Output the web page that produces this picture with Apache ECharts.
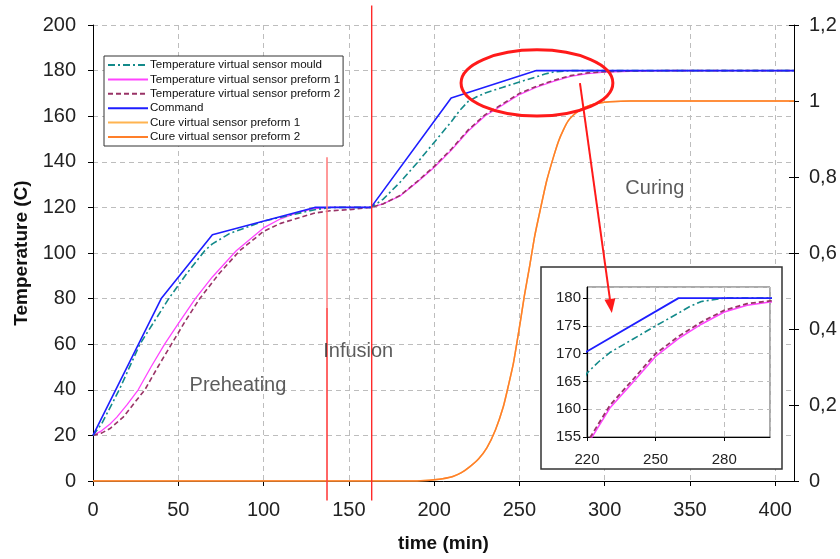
<!DOCTYPE html>
<html><head><meta charset="utf-8">
<script src="https://cdn.jsdelivr.net/npm/echarts@6/dist/echarts.min.js"></script>
<style>html,body{margin:0;padding:0;background:#fff}#c{width:840px;height:559px}</style>
</head><body><div id="c"></div>
<script>
// ---------- data ----------
const seriesNames = [
  'Temperature virtual sensor mould',
  'Temperature virtual sensor preform 1',
  'Temperature virtual sensor preform 2',
  'Command',
  'Cure virtual sensor preform 1',
  'Cure virtual sensor preform 2'
];
const command = [[0,20],[40,80],[70,108],[130,120],[163,120],[210,168],[260,180],[411,180]];
const mould = [[0,20],[5,25],[15.4,40],[27.5,60],[44.4,80],[55,91],[65.5,101],[70,104],[80,108.5],[100,114],[121,117.5],[130,119],[140,120],[163,120],[170,123.5],[180,131],[190,139.5],[200,148.5],[210,157.5],[215,162.5],[220,166.5],[225,168.5],[230,170.2],[240,172.6],[250,175],[260,177.3],[265,178.5],[270,179.4],[280,180],[411,180]];
const preform1 = [[0,20],[5,22],[10,25],[14,28],[20,33.5],[26.5,40],[34,50],[42,60],[50,69],[60,80],[70,89.5],[84,101],[100,111],[110,115],[121,118],[130,119.5],[140,120],[163,120],[170,121.5],[180,125],[190,131],[200,137.5],[210,145],[220,153.5],[230,160.2],[240,164.8],[250,169.5],[260,172.7],[270,175.3],[280,177.5],[290,178.7],[300,179.3],[320,179.8],[340,180],[411,180]];
const preform2 = [[0,20],[5,21],[10,23],[17.7,28],[24,34],[30.4,40],[38,50],[46,60],[54,70],[62.6,80],[74,91],[86,101],[100,109.5],[110,113],[121,115.5],[130,117.5],[139,118.5],[150,119],[163,120],[170,121.5],[180,125.2],[190,131.3],[200,138],[210,145.5],[220,154],[230,160.7],[240,165.3],[250,170],[260,173.1],[270,175.7],[280,177.8],[290,179],[300,179.5],[320,179.9],[340,180],[411,180]];
const cure1 = [[0,0],[190,0],[195,0.001],[200,0.003],[205,0.006],[211,0.012],[216,0.022],[221,0.038],[226,0.058],[231,0.088],[236,0.135],[240.6,0.196],[243.5,0.25],[246.5,0.31],[250.4,0.415],[253,0.49],[256.3,0.573],[259,0.645],[262.2,0.713],[266,0.79],[270,0.853],[273,0.895],[275.8,0.924],[278.5,0.947],[281.7,0.963],[286,0.978],[291.5,0.989],[297,0.995],[303,0.998],[315,1],[411,1]];
const cure2 = [[0,0],[190,0],[195,0.001],[200,0.003],[205,0.006],[211,0.012],[216,0.022],[221,0.038],[226,0.058],[231,0.088],[236,0.135],[240.6,0.196],[243.5,0.25],[246.5,0.31],[250.4,0.415],[253,0.49],[256.3,0.573],[259,0.645],[262.2,0.713],[266,0.79],[270,0.853],[273,0.895],[275.8,0.924],[278.5,0.947],[281.7,0.963],[286,0.978],[291.5,0.989],[297,0.995],[303,0.998],[315,1],[411,1]];
const infusionLine1Pale = [[137.2,142],[137.2,76]];
const infusionLine1 = [[137.2,76],[137.2,-8.5]];
const infusionLine2 = [[163.4,208.5],[163.4,-8.5]];
const phaseLabels = [[85,42,'Preheating'],[155.5,56.6,'Infusion'],[329.4,128.5,'Curing']];
const ellipseSpec = [260.3,174.6,44.5,14.5]; // cx, cy, rx, ry in data units
const arrowFrom = [285.5,174.5];
const arrowTo = [304.2,73.7];

// ---------- chart ----------
const FF = '"Liberation Sans", Arial, sans-serif';
const chart = echarts.init(document.getElementById('c'), null, {renderer:'canvas'});
const dashGrid = {show:true, lineStyle:{color:'#bdbdbd', type:[5,4], width:1}};
const colors = ['#138a8a','#ff44ff','#993366','#1e1eff','#ffb450','#ff7f2a'];
function lineS(name, data, color, type, width, xi, yi, z, smooth) {
  return {name, type:'line', data, xAxisIndex:xi, yAxisIndex:yi, symbol:'none', showSymbol:false,
    smooth: smooth||false, z, clip:true,
    lineStyle:{color, type, width}, itemStyle:{color}, emphasis:{disabled:true}, animation:false};
}
const dashDot = [7,3,2,3];
const option = {
  animation:false,
  textStyle:{fontFamily:FF},
  legend:{
    data: seriesNames, orient:'vertical', left:104, top:56,
    padding:[3,3,3,3], itemWidth:40, itemHeight:10, itemGap:2.4,
    borderColor:'#333', borderWidth:1, backgroundColor:'#fff', borderRadius:0,
    itemStyle:{opacity:0},
    textStyle:{fontSize:11.6, color:'#111', fontFamily:FF, padding:[0,0,0,-3]},
    selectedMode:false, z:40
  },
  grid:[
    {left:93, top:25, width:701, height:456, outerBoundsMode:'none', containLabel:false},
    {left:587, top:287, width:183, height:150, show:true, backgroundColor:'#fff', borderColor:'#555', borderWidth:1, z:15, outerBoundsMode:'none', containLabel:false}
  ],
  xAxis:[
    {type:'value', gridIndex:0, min:0, max:411, interval:50,
     axisLine:{show:true, onZero:false, lineStyle:{color:'#000', width:1}},
     axisTick:{show:true, length:5, lineStyle:{color:'#000'}},
     axisLabel:{fontSize:20, color:'#222', margin:19, showMaxLabel:false, fontFamily:FF},
     splitLine:dashGrid,
     name:'time (min)', nameLocation:'middle', nameGap:53,
     nameTextStyle:{fontSize:19, fontWeight:'bold', color:'#111', fontFamily:FF}},
    {type:'value', gridIndex:1, min:220, max:300, interval:30, z:20,
     axisLine:{show:true, onZero:false, lineStyle:{color:'#000', width:1.2}},
     axisTick:{show:true, length:4, lineStyle:{color:'#000'}},
     axisLabel:{fontSize:15, color:'#222', margin:15, showMaxLabel:false, fontFamily:FF},
     splitLine:dashGrid}
  ],
  yAxis:[
    {type:'value', gridIndex:0, min:0, max:200, interval:20, position:'left',
     axisLine:{show:true, lineStyle:{color:'#000', width:1}},
     axisTick:{show:true, length:5, lineStyle:{color:'#000'}},
     axisLabel:{fontSize:20, color:'#222', margin:17, fontFamily:FF},
     splitLine:dashGrid,
     name:'Temperature (C)', nameLocation:'middle', nameGap:61, nameRotate:90,
     nameTextStyle:{fontSize:19, fontWeight:'bold', color:'#111', fontFamily:FF}},
    {type:'value', gridIndex:0, min:0, max:1.2, interval:0.2, position:'right',
     axisLine:{show:true, lineStyle:{color:'#000', width:1}},
     axisTick:{show:true, length:5, lineStyle:{color:'#000'}},
     axisLabel:{fontSize:20, color:'#222', margin:15, fontFamily:FF,
       formatter:v=>String(+(+v).toFixed(1)).replace('.',',')},
     splitLine:{show:false}},
    {type:'value', gridIndex:1, min:155, max:182, interval:5, z:20,
     axisLine:{show:true, lineStyle:{color:'#000', width:1.2}},
     axisTick:{show:true, length:4, lineStyle:{color:'#000'}},
     axisLabel:{fontSize:15, color:'#222', margin:6, showMaxLabel:false, fontFamily:FF},
     splitLine:dashGrid},
    {type:'value', gridIndex:0, min:0, max:1.2, interval:0.2, position:'right',
     axisLine:{show:false},
     axisTick:{show:true, inside:true, length:5, lineStyle:{color:'#000'}},
     axisLabel:{show:false}, splitLine:{show:false}}
  ],
  series:[
    lineS(seriesNames[4], cure1, colors[4], 'solid', 1.5, 0, 1, 2, 0.2),
    lineS(seriesNames[5], cure2, colors[5], 'solid', 1.5, 0, 1, 2, 0.2),
    lineS(seriesNames[1], preform1, colors[1], 'solid', 1.3, 0, 0, 3, false),
    lineS(seriesNames[2], preform2, colors[2], [5,3], 1.6, 0, 0, 3, false),
    lineS(seriesNames[0], mould, colors[0], dashDot, 1.6, 0, 0, 4, false),
    lineS(seriesNames[3], command, colors[3], 'solid', 1.6, 0, 0, 5, false),
    {type:'line', data:infusionLine1Pale, symbol:'none', clip:false, z:6, silent:true, animation:false,
     lineStyle:{color:'#ff8080', width:1.6}},
    {type:'line', data:infusionLine1, symbol:'none', clip:false, z:6, silent:true, animation:false,
     lineStyle:{color:'#ff4040', width:1.6}},
    {type:'line', data:infusionLine2, symbol:'none', clip:false, z:6, silent:true, animation:false,
     lineStyle:{color:'#ff2a2a', width:1.4}},
    {type:'scatter', data:phaseLabels, symbolSize:1, itemStyle:{color:'rgba(0,0,0,0)'}, z:7, silent:true,
     label:{show:true, position:'inside', formatter:p=>p.value[2], fontSize:20, color:'#333', fontFamily:FF}},
    // inset
    lineS(seriesNames[1], preform1, colors[1], 'solid', 1.5, 1, 2, 21, false),
    lineS(seriesNames[2], preform2, colors[2], [5,3], 1.8, 1, 2, 21, false),
    lineS(seriesNames[0], mould, colors[0], dashDot, 1.6, 1, 2, 22, false),
    lineS(seriesNames[3], command, colors[3], 'solid', 1.8, 1, 2, 23, false)
  ]
};
chart.setOption(option);

// annotations converted from data coordinates
const c = chart.convertToPixel({gridIndex:0}, [ellipseSpec[0], ellipseSpec[1]]);
const e1 = chart.convertToPixel({gridIndex:0}, [ellipseSpec[0]+ellipseSpec[2], ellipseSpec[1]+ellipseSpec[3]]);
const a0 = chart.convertToPixel({gridIndex:0}, arrowFrom);
const a1 = chart.convertToPixel({gridIndex:0}, arrowTo);
const ang = Math.atan2(a1[1]-a0[1], a1[0]-a0[0]);
const hl = 14, hw = 5.5;
const base = [a1[0]-hl*Math.cos(ang), a1[1]-hl*Math.sin(ang)];
const tri = [a1, [base[0]+hw*Math.sin(ang), base[1]-hw*Math.cos(ang)], [base[0]-hw*Math.sin(ang), base[1]+hw*Math.cos(ang)]];
const g0 = chart.convertToPixel({gridIndex:1}, [220,182]);
const g1 = chart.convertToPixel({gridIndex:1}, [300,155]);
chart.setOption({graphic:[
  {type:'rect', z:10, shape:{x:g0[0]-46, y:g0[1]-20, width:(g1[0]-g0[0])+58, height:(g1[1]-g0[1])+52},
   style:{fill:'#fff', stroke:'#333', lineWidth:1.5}},
  {type:'ellipse', z:50, shape:{cx:c[0], cy:c[1], rx:Math.abs(e1[0]-c[0]), ry:Math.abs(e1[1]-c[1])},
   style:{fill:'none', stroke:'#ff1a1a', lineWidth:3}},
  {type:'line', z:50, shape:{x1:a0[0], y1:a0[1], x2:base[0], y2:base[1]}, style:{stroke:'#ff1a1a', lineWidth:2}},
  {type:'polygon', z:50, shape:{points:tri}, style:{fill:'#ff1a1a'}}
]});
</script></body></html>
